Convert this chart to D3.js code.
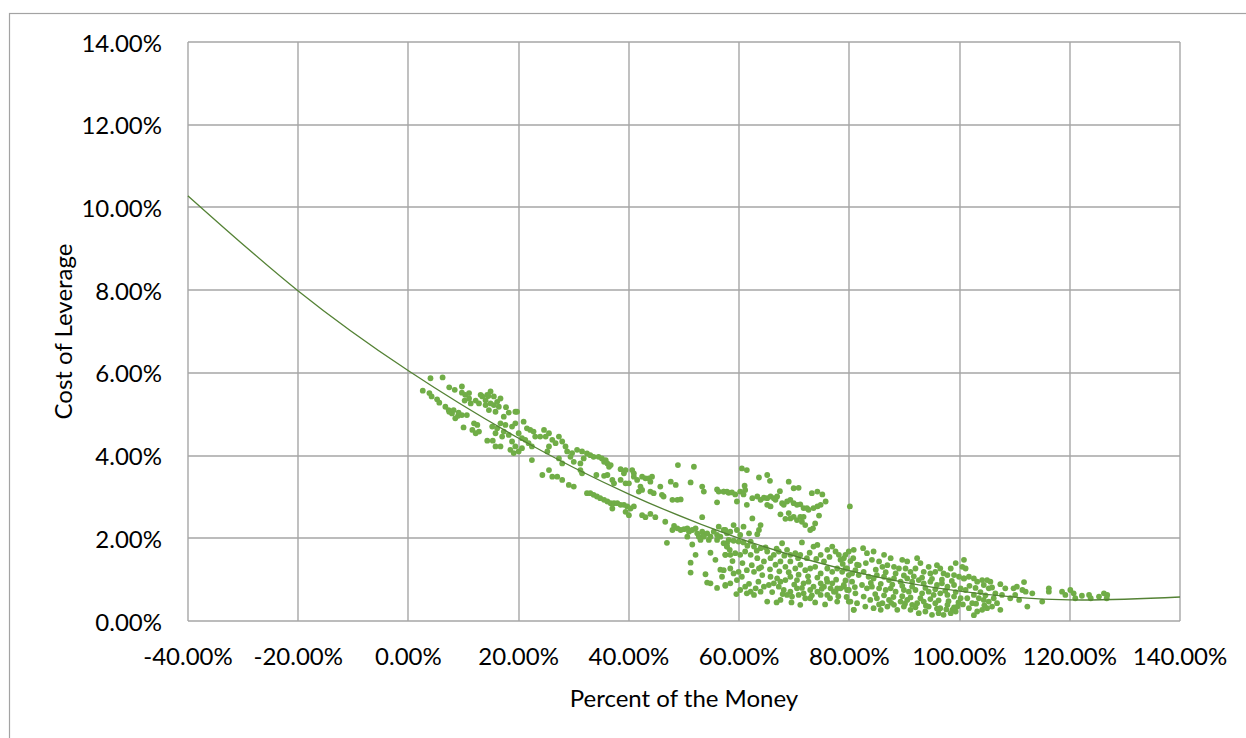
<!DOCTYPE html>
<html>
<head>
<meta charset="utf-8">
<script src="https://cdn.jsdelivr.net/npm/d3@7"></script>
<style>
  html, body { margin: 0; background: #fff; }
  svg { display: block; font-family: Lato, "Noto Sans", sans-serif; }
</style>
</head>
<body>
<div id="chart"></div>
<script>
// axis ticks
const xTicks = [-0.4, -0.2, 0, 0.2, 0.4, 0.6, 0.8, 1.0, 1.2, 1.4];
const yTicks = [0, 0.02, 0.04, 0.06, 0.08, 0.10, 0.12, 0.14];

// trendline (percent of money, cost in %)
const trendX = [-0.4, -0.2, 0, 0.2, 0.4, 0.6, 0.8, 1.0, 1.2, 1.4];
const trendY = [10.28, 7.98, 6.05, 4.42, 3.07, 2.00, 1.22, 0.72, 0.51, 0.58];

// scatter points as [percent of money %, cost of leverage %]
const ptsLeft = [[4.0,5.87],[6.2,5.89],[2.6,5.57],[3.8,5.51],[4.2,5.43],[5.2,5.36],[5.6,5.28],[7.4,5.65],[8.4,5.59],[9.7,5.67],[9.7,5.52],[10.3,5.47],[11.0,5.51],[10.2,5.33],[11.3,5.26],[11.0,5.38],[6.7,5.18],[7.3,5.10],[7.9,5.02],[8.5,4.90],[9.0,4.96],[9.7,4.98],[10.6,4.98],[7.4,5.06],[8.2,5.10],[9.1,5.04],[13.4,5.43],[14.5,5.44],[15.5,5.43],[14.0,5.22],[14.6,5.10],[15.8,5.06],[15.5,5.22],[16.4,5.18],[17.7,5.17],[18.2,5.04],[19.4,5.06],[10.0,4.68],[11.6,4.62],[12.2,4.54],[12.8,4.58],[11.9,4.78],[12.5,4.74],[14.3,4.36],[15.3,4.36],[15.8,4.54],[15.8,4.22],[16.7,4.22],[17.0,4.46],[17.3,4.58],[18.2,4.50],[18.8,4.70],[19.4,4.78],[19.7,5.06],[20.9,4.82],[21.5,4.66],[22.1,4.62],[22.7,4.58],[20.0,4.54],[20.6,4.42],[21.2,4.38],[21.8,4.30],[18.8,4.34],[19.4,4.22],[18.5,4.14],[19.1,4.06],[20.0,4.10],[20.6,4.18],[22.4,4.22],[23.0,4.46],[23.9,4.46],[24.6,4.62],[24.9,4.46],[25.5,4.54],[26.1,4.38],[26.7,4.30],[25.5,4.22],[25.2,4.10],[27.3,4.46],[27.9,4.34],[28.5,4.22],[28.8,4.10],[29.7,4.06],[30.6,4.14],[31.5,4.10],[31.8,3.93],[31.2,3.81],[30.0,3.85],[29.4,3.97],[27.9,3.81],[27.3,3.93],[22.4,3.89],[24.3,3.53],[25.5,3.65],[26.1,3.49],[27.0,3.49],[27.9,3.41],[29.1,3.29],[30.0,3.25],[31.5,3.57],[31.2,3.65],[17.3,4.94],[16.7,4.78],[17.6,4.74],[15.2,4.70],[16.1,4.66],[14.0,5.34],[14.9,5.26],[16.1,5.30],[16.7,5.38],[14.9,5.55],[14.3,5.47],[13.1,5.47],[12.8,5.26],[12.2,5.33]];

const ptsMid = [[32.4,4.05],[33.0,4.01],[33.6,3.97],[34.5,3.97],[35.1,3.93],[35.8,3.89],[36.1,3.81],[36.4,3.73],[36.7,3.77],[35.5,3.85],[34.1,3.53],[35.5,3.51],[36.1,3.53],[37.0,3.41],[37.3,3.33],[38.5,3.67],[39.1,3.57],[39.4,3.65],[38.5,3.41],[39.4,3.33],[40.0,3.33],[40.6,3.65],[40.9,3.57],[40.9,3.49],[41.5,3.41],[42.4,3.49],[43.0,3.45],[43.6,3.45],[44.2,3.49],[43.9,3.37],[42.1,3.25],[41.8,3.13],[42.4,3.17],[43.9,3.13],[44.5,3.09],[45.7,3.25],[46.0,3.05],[46.3,3.01],[47.6,3.37],[48.5,3.29],[47.9,2.93],[48.8,2.93],[49.4,2.94],[48.9,3.77],[51.8,3.73],[51.2,3.35],[53.3,3.25],[53.6,3.13],[56.0,3.18],[56.3,3.13],[57.2,3.13],[58.1,3.10],[56.0,2.87],[53.3,2.51],
  [32.4,3.09],[33.0,3.09],[33.6,3.05],[34.2,3.01],[34.8,2.97],[35.5,2.93],[36.1,2.89],[36.7,2.85],[37.3,2.85],[37.9,2.85],[38.5,2.81],[39.1,2.81],[39.7,2.77],[40.3,2.72],[40.9,2.77],[37.0,2.72],[39.4,2.64],[40.0,2.56],[42.4,2.56],[43.0,2.51],[43.9,2.59],[44.8,2.51],[46.6,2.40],[46.9,1.89],
  [48.2,2.30],[48.8,2.24],[49.4,2.20],[50.0,2.22],[50.6,2.24],[50.9,2.16],[51.5,2.20],[52.1,2.24],[52.4,2.12],[52.7,2.04],[53.3,2.16],[53.6,2.08],[54.2,2.12],[54.8,2.04],[55.4,2.16],[56.0,2.08],[56.3,2.28],[56.6,2.04],[57.2,2.20],[57.8,2.12],[58.1,1.96],[47.9,2.20],[50.6,2.04],[51.5,1.85],[52.1,1.60],[51.2,1.41],[51.2,1.17],[53.9,1.13],[54.8,1.65],[55.7,1.48],[56.6,1.24],[56.9,1.07],[57.5,1.60],[57.8,1.80],[56.0,0.80],[57.5,0.85],[54.2,0.93],[54.8,0.91],[53.6,2.04],[53.0,1.96],[54.5,1.96],[56.0,1.96],[57.8,1.88],[58.3,1.72]];

const ptsCentre = [[60.5,3.69],[61.4,3.65],[63.6,3.47],[65.1,3.53],[65.6,3.39],[69.0,3.37],[69.9,3.21],[70.8,3.22],[57.2,3.13],[57.8,3.13],[58.7,3.11],[59.3,3.06],[60.2,3.13],[61.0,3.27],[61.1,3.17],[60.8,3.06],[59.6,2.89],[61.4,2.81],[62.4,2.97],[63.3,3.01],[63.9,2.93],[64.5,2.98],[65.1,2.97],[65.7,3.01],[66.3,2.97],[66.9,3.01],[67.4,3.14],[65.1,2.81],[65.7,2.77],[66.6,2.93],[67.8,2.85],[68.1,2.81],[68.7,2.89],[69.3,2.93],[69.9,2.85],[70.5,2.81],[71.1,2.82],[71.7,2.73],[72.3,2.73],[72.6,2.69],[73.5,2.73],[74.2,2.77],[74.8,2.81],[73.2,3.09],[74.2,3.13],[75.1,3.06],[75.7,2.89],[67.5,2.58],[68.4,2.47],[69.0,2.61],[69.3,2.48],[69.9,2.52],[70.5,2.44],[71.1,2.52],[71.4,2.40],[72.0,2.32],[71.7,2.52],[72.9,2.20],[73.4,2.24],[73.8,2.36],[74.5,2.55],[80.1,2.77],
  [62.4,2.48],[63.9,2.32],[63.6,2.20],[63.3,2.10],[60.8,2.28],[59.0,2.32],[59.6,2.20],[60.2,2.08],[61.8,2.12],[58.4,2.16],[57.5,2.20],
  [57.2,1.88],[57.8,1.80],[59.0,1.94],[59.9,1.92],[60.8,1.90],[62.1,1.92],[62.7,1.80],[63.9,1.76],[65.1,1.68],[66.3,1.60],[67.2,1.68],[67.8,1.88],[68.7,1.72],[69.3,1.60],[70.2,1.64],[71.1,1.60],[71.4,1.90],[72.3,1.52],[73.5,1.80],[74.2,1.84],[74.8,1.60],[75.4,1.44],[76.0,1.72],[76.9,1.80],[77.5,1.68],[78.1,1.60],[78.4,1.48],[79.3,1.60],[79.9,1.68],[80.7,1.52],[81.4,1.36],
  [61.5,1.82],[63.2,1.70],[64.8,1.78],[66.8,1.75],[68.2,1.58],[70.7,1.52],[72.8,1.65],[74.0,1.50],[76.4,1.55],[78.8,1.38],[80.2,1.45],
  [57.5,1.60],[58.4,1.60],[59.3,1.64],[60.2,1.60],[61.1,1.68],[62.1,1.60],[63.3,1.52],[64.5,1.44],[65.7,1.52],[66.6,1.36],[67.5,1.44],[68.4,1.31],[69.3,1.44],[70.2,1.27],[71.1,1.36],[72.0,1.23],[72.9,1.27],[73.8,1.31],[74.8,1.15],[76.0,1.27],[76.9,1.19],[77.8,1.27],[78.7,1.19],[79.6,1.27],[80.5,1.15],[81.1,1.23],
  [58.8,1.45],[60.6,1.40],[62.3,1.35],[64.0,1.30],[65.6,1.25],[67.3,1.20],[69.0,1.18],[70.8,1.12],[72.5,1.08],[74.2,1.05],[75.9,1.02],[77.6,1.00],[79.3,0.98],
  [57.2,1.23],[58.4,1.27],[59.0,1.15],[59.9,1.19],[60.5,1.07],[61.4,1.23],[62.7,1.19],[63.6,1.27],[64.2,1.11],[65.7,1.07],[66.9,1.03],[67.5,0.95],[68.4,0.99],[69.3,1.07],[70.5,0.99],[71.7,0.91],[72.6,0.95],[73.5,0.83],[74.8,0.91],[76.0,0.95],[76.9,0.91],[77.8,0.79],[79.0,0.83],[79.9,0.75],
  [57.5,0.87],[58.4,0.91],[59.6,0.99],[60.2,0.75],[61.1,0.83],[62.1,0.71],[63.0,0.79],[64.5,0.83],[65.4,0.87],[66.3,0.91],[67.2,0.83],[68.1,0.75],[69.3,0.71],[70.5,0.79],[71.7,0.67],[72.9,0.75],[74.2,0.71],[75.4,0.83],[76.6,0.79],[77.5,0.71],[78.4,0.79],
  [59.5,0.65],[61.8,0.90],[63.5,0.95],[66.0,0.70],[67.9,0.65],[70.0,0.88],[71.4,0.80],[73.2,0.62],[75.0,0.78],[76.5,0.55],[78.0,0.60],[79.5,0.58],[81.0,0.82],[66.8,0.45],[69.5,0.45],[73.8,0.45],[75.6,0.40],
  [61.4,0.67],[62.7,0.63],[63.9,0.71],[65.1,0.47],[67.5,0.51],[69.6,0.59],[71.1,0.39],[72.9,0.55],[74.8,0.63],[76.0,0.63],[77.2,0.71],[77.8,0.47],[79.9,0.47],[80.8,0.27],[70.8,0.63],[72.0,0.55],[68.7,0.63]];

const ptsRight = [[82.5,1.76],[83.2,1.64],[84.4,1.68],[86.3,1.60],[87.5,1.52],[89.6,1.48],[90.5,1.44],[92.3,1.52],[92.9,1.40],[94.4,1.31],[95.9,1.35],[96.5,1.27],[98.4,1.27],[99.3,1.40],[100.5,1.31],[84.1,1.48],[85.4,1.44],[86.0,1.31],[86.9,1.35],[88.1,1.31],[89.0,1.27],[90.2,1.27],[91.1,1.19],[92.0,1.27],[93.5,1.19],[94.7,1.15],[95.6,1.19],[97.1,1.15],[97.8,1.11],[99.0,1.11],[99.9,1.07],[100.8,1.03],
  [82.6,1.19],[83.5,1.07],[84.4,1.03],[85.0,1.11],[86.3,1.07],[87.2,0.99],[88.1,1.03],[89.3,0.95],[90.5,1.03],[91.4,0.95],[92.6,0.99],[93.5,0.91],[94.7,0.95],[95.9,0.87],[96.8,0.91],[97.8,0.83],[99.0,0.87],[100.2,0.79],[101.1,0.75],
  [83.0,1.40],[84.8,1.24],[86.6,1.18],[88.4,1.15],[89.9,1.10],[91.7,1.08],[93.2,1.05],[95.0,1.02],[96.8,1.00],[98.6,0.97],
  [82.3,0.87],[83.2,0.79],[84.1,0.83],[85.4,0.79],[86.6,0.75],[87.5,0.79],[88.4,0.71],[89.9,0.75],[90.8,0.71],[92.0,0.75],[93.2,0.67],[94.4,0.71],[95.3,0.63],[96.5,0.67],[97.8,0.63],[99.0,0.59],[100.2,0.55],
  [83.9,0.92],[85.7,0.90],[87.8,0.88],[89.6,0.85],[91.4,0.83],[93.8,0.80],[95.6,0.77],[97.4,0.73],[99.3,0.70],
  [82.6,0.59],[83.8,0.51],[85.0,0.55],[86.0,0.43],[87.2,0.51],[88.1,0.39],[89.3,0.47],[90.5,0.51],[91.4,0.39],[92.3,0.43],[93.5,0.47],[94.4,0.35],[95.6,0.43],[96.5,0.31],[97.8,0.39],[98.7,0.27],[99.6,0.35],
  [84.7,0.65],[86.3,0.62],[88.0,0.58],[89.6,0.60],[91.1,0.57],[92.9,0.55],[94.7,0.53],[96.2,0.50],[98.0,0.48],[99.8,0.45],
  [82.9,0.35],[84.4,0.31],[85.7,0.27],[86.9,0.35],[88.7,0.27],[89.9,0.35],[91.1,0.27],[92.6,0.19],[93.8,0.23],[95.0,0.15],[96.2,0.19],[97.1,0.15],[98.4,0.19],[99.3,0.23],
  [85.4,0.40],[87.6,0.44],[90.1,0.42],[92.0,0.33],[93.9,0.37],[95.9,0.30],[97.6,0.28],[99.0,0.33],
  [79.0,1.52],[79.3,1.27],[80.8,1.72],[79.9,1.11],[80.5,0.95],[79.0,0.87],[79.6,0.75],[81.1,0.67],[80.2,0.47],[81.4,0.43],[80.8,0.27],[81.7,1.11],[81.7,1.35]];

const ptsTail = [[100.8,1.48],[101.1,1.27],[100.8,1.03],[101.7,1.07],[102.6,1.03],[103.2,0.95],[104.1,0.99],[105.0,0.99],[105.6,0.95],[104.4,0.87],[105.3,0.79],[105.9,0.81],[107.4,0.89],[108.3,0.79],[109.8,0.79],[110.4,0.83],[111.7,0.94],[111.4,0.75],[112.0,0.71],[113.2,0.67],[110.1,0.63],[109.2,0.55],[110.8,0.51],[112.3,0.35],[115.0,0.47],[116.2,0.79],[116.2,0.71],[118.6,0.71],[119.2,0.63],[120.1,0.75],[120.7,0.67],[121.0,0.55],[122.2,0.61],[123.5,0.63],[123.8,0.55],[125.3,0.59],[126.2,0.67],[126.8,0.63],[126.7,0.55],
  [102.6,0.63],[103.5,0.55],[104.4,0.51],[105.3,0.47],[106.2,0.55],[106.8,0.43],[105.0,0.31],[104.1,0.27],[103.2,0.23],[102.6,0.14],[105.9,0.35],[107.4,0.27],[107.7,0.63],[106.5,0.67],[102.3,0.43],[101.7,0.31],
  [100.6,0.40],[101.4,0.55],[101.8,0.85],[102.9,0.80],[103.8,0.70],[104.7,0.62],[103.0,0.42],[104.5,0.38]];

const points = [].concat(ptsLeft, ptsMid, ptsCentre, ptsRight, ptsTail)
  .map(([px, cy]) => ({ x: px / 100, y: cy / 100 }));

const width = 1246, height = 738;
const plot = { left: 188, right: 1180, top: 42, bottom: 621 };

const svg = d3.select('#chart').append('svg')
  .attr('width', width).attr('height', height);

// chart area border (runs off the right and bottom edge)
svg.append('rect')
  .attr('x', 9.5).attr('y', 13.5)
  .attr('width', 1300).attr('height', 800)
  .attr('fill', '#fff')
  .attr('stroke', '#a3a3a3').attr('stroke-width', 1.2);

const x = d3.scaleLinear().domain([-0.4, 1.4]).range([plot.left, plot.right]);
const y = d3.scaleLinear().domain([0, 0.14]).range([plot.bottom, plot.top]);
const fmt = d3.formatLocale({ decimal: '.', thousands: ',', grouping: [3], currency: ['$', ''], minus: '-' }).format('.2%');

// gridlines
const grid = svg.append('g').attr('stroke', '#a6a6a6').attr('stroke-width', 1.4);
grid.selectAll('.vx').data(xTicks).join('line')
  .attr('x1', d => Math.round(x(d))).attr('x2', d => Math.round(x(d)))
  .attr('y1', plot.top).attr('y2', plot.bottom);
grid.selectAll('.hy').data(yTicks).join('line')
  .attr('y1', d => Math.round(y(d))).attr('y2', d => Math.round(y(d)))
  .attr('x1', plot.left).attr('x2', plot.right);

// tick labels
svg.append('g').selectAll('text').data(yTicks).join('text')
  .attr('x', 162).attr('y', d => y(d))
  .attr('text-anchor', 'end').attr('dominant-baseline', 'central')
  .attr('font-size', 24).attr('fill', '#000')
  .text(fmt);

svg.append('g').selectAll('text').data(xTicks).join('text')
  .attr('x', d => x(d)).attr('y', 655)
  .attr('text-anchor', 'middle').attr('dominant-baseline', 'central')
  .attr('font-size', 24).attr('fill', '#000')
  .text(fmt);

// axis titles
svg.append('text')
  .attr('x', (plot.left + plot.right) / 2).attr('y', 697)
  .attr('text-anchor', 'middle').attr('dominant-baseline', 'central')
  .attr('font-size', 24).attr('fill', '#000')
  .text('Percent of the Money');

svg.append('text')
  .attr('transform', `translate(62,${(plot.top + plot.bottom) / 2}) rotate(-90)`)
  .attr('text-anchor', 'middle').attr('dominant-baseline', 'central')
  .attr('font-size', 24).attr('fill', '#000')
  .text('Cost of Leverage');

// scatter
svg.append('g').attr('fill', '#70ad47')
  .selectAll('circle').data(points).join('circle')
  .attr('cx', d => x(d.x)).attr('cy', d => y(d.y)).attr('r', 2.9);

// trendline
const line = d3.line()
  .x((d, i) => x(trendX[i]))
  .y(d => y(d / 100))
  .curve(d3.curveNatural);

svg.append('path')
  .attr('d', line(trendY))
  .attr('fill', 'none')
  .attr('stroke', '#548235').attr('stroke-width', 1.3);
</script>
</body>
</html>
